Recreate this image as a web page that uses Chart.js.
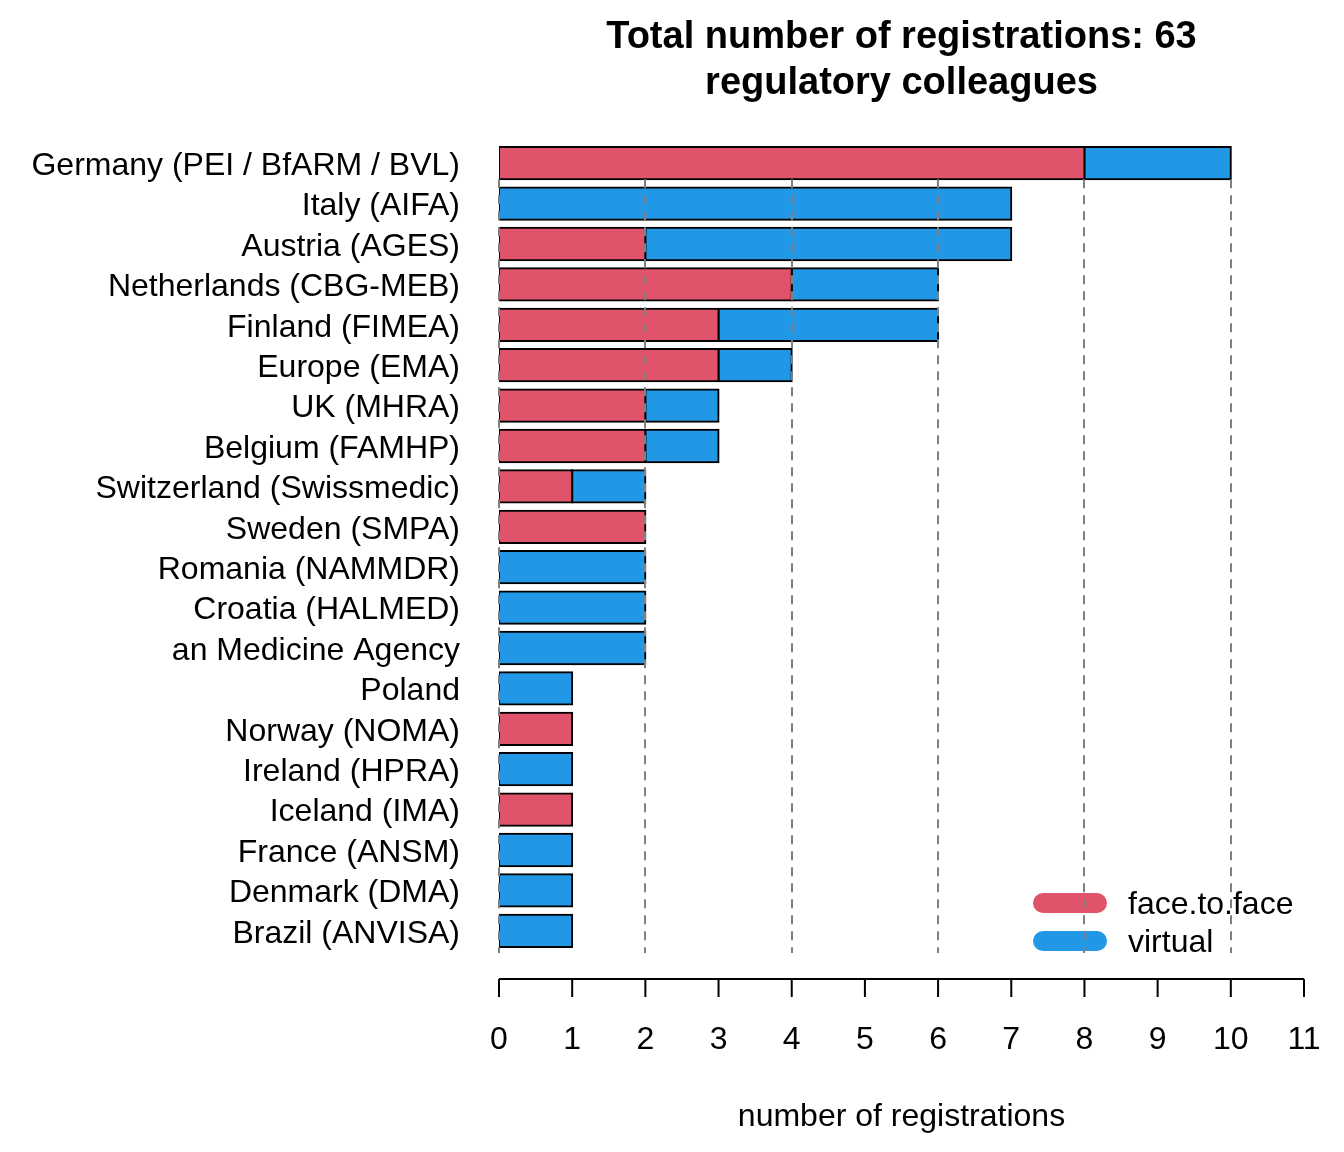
<!DOCTYPE html>
<html>
<head>
<meta charset="utf-8">
<script src="https://cdn.jsdelivr.net/npm/chart.js@4/dist/chart.umd.min.js"></script>
<style>
  html, body { margin: 0; padding: 0; background: #fff; }
  #wrap { width: 1344px; height: 1152px; }
</style>
</head>
<body>
<div id="wrap"><canvas id="regChart" width="1344" height="1152"></canvas></div>
<script>
// data
const countries = [
    'Germany (PEI / BfARM / BVL)', 'Italy (AIFA)', 'Austria (AGES)', 'Netherlands (CBG-MEB)',
    'Finland (FIMEA)', 'Europe (EMA)', 'UK (MHRA)', 'Belgium (FAMHP)', 'Switzerland (Swissmedic)',
    'Sweden (SMPA)', 'Romania (NAMMDR)', 'Croatia (HALMED)', 'an Medicine Agency', 'Poland',
    'Norway (NOMA)', 'Ireland (HPRA)', 'Iceland (IMA)', 'France (ANSM)', 'Denmark (DMA)', 'Brazil (ANVISA)'
];
const faceToFace = [8, 0, 2, 4, 3, 3, 2, 2, 1, 2, 0, 0, 0, 0, 1, 0, 1, 0, 0, 0];
const virtual    = [2, 7, 5, 2, 3, 1, 1, 1, 1, 0, 2, 2, 2, 1, 0, 1, 0, 1, 1, 1];
const xTicks = [0, 1, 2, 3, 4, 5, 6, 7, 8, 9, 10, 11];
const gridAt = [0, 2, 4, 6, 8, 10];
const titleLines = ['Total number of registrations: 63', 'regulatory colleagues'];
const seriesNames = ['face.to.face', 'virtual'];

const RED = '#DF536B';
const BLUE = '#2297E6';
const FONT = '"Liberation Sans", Arial, sans-serif';

// title, legend, dashed grid and bottom axis in R base style
const baseStyle = {
    id: 'baseStyle',
    afterDatasetsDraw(chart) {
        const ctx = chart.ctx;
        const area = chart.chartArea;
        const x = chart.scales.x;
        const midX = (area.left + area.right) / 2;

        ctx.save();
        ctx.fillStyle = '#000';
        ctx.textAlign = 'center';
        ctx.textBaseline = 'middle';
        ctx.font = 'bold 38px ' + FONT;
        ctx.fillText(titleLines[0], midX, 38);
        ctx.fillText(titleLines[1], midX, 84);

        // legend, bottom right
        const colors = [RED, BLUE];
        ctx.font = '32px ' + FONT;
        ctx.textAlign = 'left';
        ctx.lineCap = 'round';
        ctx.lineWidth = 20;
        seriesNames.forEach((name, i) => {
            const ly = area.bottom - 48 + i * 38;
            ctx.strokeStyle = colors[i];
            ctx.beginPath();
            ctx.moveTo(area.right - 261, ly);
            ctx.lineTo(area.right - 207, ly);
            ctx.stroke();
            ctx.fillText(name, area.right - 176, ly + 2);
        });

        // dashed grid over the bars
        const first = chart.getDatasetMeta(0).data[0];
        const gridTop = first.y + first.height / 2;
        ctx.lineCap = 'butt';
        ctx.strokeStyle = '#808080';
        ctx.lineWidth = 2;
        ctx.setLineDash([9, 7]);
        gridAt.forEach(v => {
            const gx = Math.round(x.getPixelForValue(v));
            ctx.beginPath();
            ctx.moveTo(gx, gridTop);
            ctx.lineTo(gx, area.bottom + 2);
            ctx.stroke();
        });

        // x axis line and ticks
        ctx.setLineDash([]);
        ctx.strokeStyle = '#000';
        const ay = area.bottom + 28;
        ctx.beginPath();
        ctx.moveTo(x.getPixelForValue(xTicks[0]), ay);
        ctx.lineTo(x.getPixelForValue(xTicks[xTicks.length - 1]), ay);
        xTicks.forEach(v => {
            const tx = x.getPixelForValue(v);
            ctx.moveTo(tx, ay);
            ctx.lineTo(tx, ay + 18);
        });
        ctx.stroke();
        ctx.restore();
    }
};

new Chart(document.getElementById('regChart'), {
    type: 'bar',
    data: {
        labels: countries,
        datasets: [
            { label: seriesNames[0], data: faceToFace, backgroundColor: RED },
            { label: seriesNames[1], data: virtual, backgroundColor: BLUE }
        ]
    },
    options: {
        indexAxis: 'y',
        responsive: false,
        animation: false,
        events: [],
        layout: { padding: { top: 143, right: 40, left: 0, bottom: 0 } },
        datasets: {
            bar: {
                borderColor: '#000',
                borderWidth: 2,
                inflateAmount: 1,
                borderSkipped: false,
                barPercentage: 0.8,
                categoryPercentage: 1
            }
        },
        plugins: {
            legend: { display: false },
            title: { display: false },
            tooltip: { enabled: false }
        },
        scales: {
            x: {
                stacked: true,
                min: 0,
                max: 11,
                afterFit: s => {
                    s.height = 201;
                    s.paddingLeft = 0;
                    s.paddingRight = 0;
                },
                grid: { display: false, drawTicks: false },
                border: { display: false },
                ticks: {
                    stepSize: 1,
                    color: '#000',
                    padding: 70,
                    font: { family: FONT, size: 32 }
                },
                title: {
                    display: true,
                    text: 'number of registrations',
                    color: '#000',
                    padding: { top: 0, bottom: 16 },
                    font: { family: FONT, size: 32 }
                }
            },
            y: {
                stacked: true,
                afterFit: s => {
                    s.width = 499;
                    s.paddingTop = 0;
                    s.paddingBottom = 0;
                },
                grid: { display: false, drawTicks: false },
                border: { display: false },
                ticks: {
                    color: '#000',
                    padding: 39,
                    labelOffset: 3,
                    autoSkip: false,
                    font: { family: FONT, size: 32 }
                }
            }
        }
    },
    plugins: [baseStyle]
});
</script>
</body>
</html>
